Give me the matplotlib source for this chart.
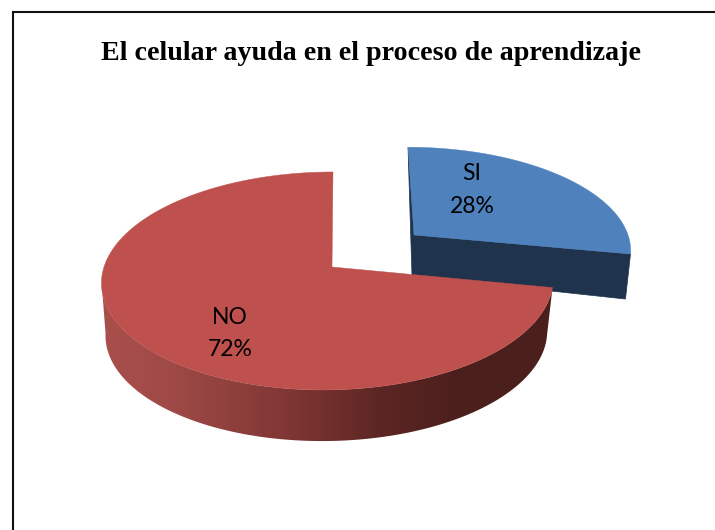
import numpy as np
import matplotlib
matplotlib.use("Agg")
import matplotlib.pyplot as plt
from matplotlib.colors import LinearSegmentedColormap
from matplotlib.patches import Polygon

# data
categories = ["SI", "NO"]
percentages = [28, 72]
title_text = "El celular ayuda en el proceso de aprendizaje"

# style / projection
BLUE_TOP, BLUE_WALL = "#4F81BD", "#1F334D"
RED_TOP = "#BE504D"
K = 0.128
side_cmap = LinearSegmentedColormap.from_list(
    "side", [(0, "#A94F4C"), (0.15, "#9F4A47"), (0.42, "#7F3633"),
             (0.62, "#5C2624"), (0.8, "#4B1F1C"), (1, "#4B1F1C")])


def ring(theta, cx, cy, a, b, shear=0.0):
    u, v = np.sin(theta), np.cos(theta)
    d = 1 + K * v
    return np.column_stack([cx + a * u / d + shear * v, cy - b * v / d])


fig = plt.figure(figsize=(7.15, 5.3), dpi=100)
ax = fig.add_axes([0, 0, 1, 1])
ax.axis("off")

fracs = np.array(percentages, float) / sum(percentages)
edges = np.concatenate([[0], np.cumsum(fracs)]) * 2 * np.pi

# SI slice (pulled out)
t_si = np.linspace(edges[0], edges[1], 120)
si_top = ring(t_si, 414, 235, 214, 99, shear=-6)
si_bot = ring(t_si, 412, 276, 211, 120, shear=-6)
ax.add_patch(Polygon(np.vstack([si_top[0], [412, 276], si_bot[-1], si_top[-1], [414, 235]]),
                     closed=True, fc=BLUE_WALL, ec=BLUE_WALL, lw=0.5, zorder=1))
ax.add_patch(Polygon(np.vstack([[[414, 235]], si_top]), closed=True, fc=BLUE_TOP, ec=BLUE_TOP, lw=0.3, zorder=2))

# NO slice: side wall as a gradient clipped to the swept band, then top
t_no = np.linspace(edges[1], edges[2], 400)
no_top = ring(t_no, 328, 267, 224, 107.2, shear=5)
no_bot = ring(t_no, 327, 319.5, 219, 106, shear=5)
keep = t_no < 1.5 * np.pi - 0.128
band = Polygon(np.vstack([no_top[keep], no_bot[keep][::-1]]), closed=True, fc="none", ec="none",
               transform=ax.transData)
grad = np.linspace(0, 1, 450).reshape(1, -1)
img = ax.imshow(grad, cmap=side_cmap, extent=(102, 552, 450, 280), aspect="auto", zorder=3,
                interpolation="bilinear")
ax.add_patch(band)
img.set_clip_path(band)
ax.add_patch(Polygon(np.vstack([[[332, 267]], no_top]), closed=True, fc=RED_TOP, ec=RED_TOP, lw=0.3, zorder=4))

ax.set_xlim(0, 715)
ax.set_ylim(530, 0)

# frame: left and top edges run off the picture
ax.plot([13, 13], [530, 11.5], color="#111111", lw=1.5, zorder=5, solid_capstyle="projecting")
ax.plot([13, 715], [11.5, 11.5], color="#111111", lw=1.5, zorder=5)

ax.text(371, 54, title_text, ha="center", va="center", fontsize=20.2,
        fontweight="bold", family="Liberation Serif", color="black", zorder=6)

label_xy = {"SI": (472, 174, 206.5), "NO": (230, 317.5, 349.5)}
for name, pct in zip(categories, percentages):
    x, y1, y2 = label_xy[name]
    ax.text(x, y1, name, ha="center", va="center", fontsize=16.5, family="Lato", color="black", zorder=6)
    ax.text(x, y2, f"{pct}%", ha="center", va="center", fontsize=16.5, family="Lato", color="black", zorder=6)

fig.savefig("out.png", dpi=100)
